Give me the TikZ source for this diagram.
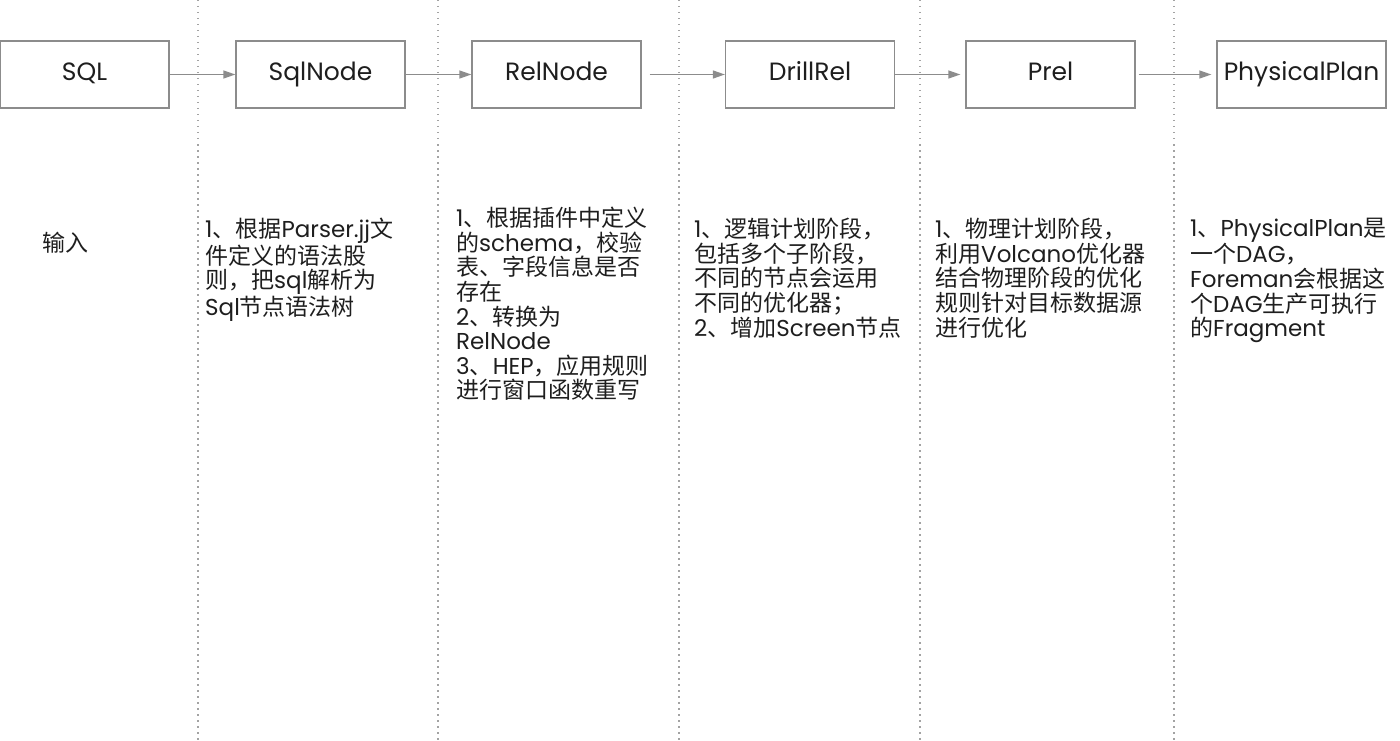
\documentclass[tikz,border=0pt]{standalone}
\usepackage{fontspec}
\setmainfont{Poppins}
\newfontfamily\cjk{Noto Sans CJK SC}
\newcommand{\zh}[1]{{\cjk #1}}
\usetikzlibrary{arrows.meta}
\definecolor{bordo}{HTML}{8C8C8C}
\definecolor{inchiostro}{HTML}{1E1E1E}

\begin{document}
\begin{tikzpicture}[x=1pt, y=-1pt, >={Triangle[length=12pt,width=8pt]}]
% Stili per le fasi e per i testi
\tikzset{fase/.style={draw=bordo, line width=1.3pt, minimum width=169pt, minimum height=67pt,
    text=inchiostro, font=\fontsize{25}{30}\selectfont, inner sep=0pt,
    text height=18pt, text depth=5pt}}
\tikzset{passo/.style={->, draw=bordo, line width=1.3pt}}
\tikzset{testo/.style={text=inchiostro, align=left, inner sep=0pt, anchor=north west,
    font=\fontsize{23}{24.6}\selectfont}}

\useasboundingbox (0,0) rectangle (1400,741);

% Separatori verticali tra le colonne
\foreach \x in {198, 438, 679, 920, 1174}
    \draw[bordo!80, line width=1.2pt, dash pattern=on 1.5pt off 4.5pt] (\x,0) -- (\x,741);

% --- FASI ---
\node[fase] (sql)      at (84.5,74.5)  {SQL};
\node[fase] (sqlnode)  at (320.5,74.5) {SqlNode};
\node[fase] (relnode)  at (556.5,74.5) {RelNode};
\node[fase] (drillrel) at (810,74.5)   {DrillRel};
\node[fase] (prel)     at (1050.5,74.5) {Prel};
\node[fase] (physplan) at (1301.5,74.5) {PhysicalPlan};

% Frecce tra le fasi
\draw[passo] (sql) -- (sqlnode);
\draw[passo] (sqlnode) -- (relnode);
\draw[passo, shorten <=8pt] (relnode) -- (drillrel);
\draw[passo, shorten >=5pt] (drillrel) -- (prel);
\draw[passo, shorten <=3pt, shorten >=5pt] (prel) -- (physplan);

% --- DESCRIZIONI ---
\node[testo, anchor=west] (ingresso) at (42,243) {\zh{输入}};
\node[testo] (desc1) at (205,218) {1\zh{、根据}Parser.jj\zh{文}\\
    \zh{件定义的语法股}\\ \zh{则，把}sql\zh{解析为}\\ Sql\zh{节点语法树}};
\node[testo] (desc2) at (456,207) {1\zh{、根据插件中定义}\\ \zh{的}schema\zh{，校验}\\
    \zh{表、字段信息是否}\\ \zh{存在}\\ 2\zh{、转换为}\\ RelNode\\
    3\zh{、}HEP\zh{，应用规则}\\ \zh{进行窗口函数重写}};
\node[testo] (desc3) at (694,218) {1\zh{、逻辑计划阶段，}\\ \zh{包括多个子阶段，}\\
    \zh{不同的节点会运用}\\ \zh{不同的优化器；}\\ 2\zh{、增加}Screen\zh{节点}};
\node[testo] (desc4) at (935,218) {1\zh{、物理计划阶段，}\\ \zh{利用}Volcano\zh{优化器}\\
    \zh{结合物理阶段的优化}\\ \zh{规则针对目标数据源}\\ \zh{进行优化}};
\node[testo] (desc5) at (1190,218) {1\zh{、}PhysicalPlan\zh{是}\\ \zh{一个}DAG\zh{，}\\
    Foreman\zh{会根据这}\\ \zh{个}DAG\zh{生产可执行}\\ \zh{的}Fragment};

\end{tikzpicture}
\end{document}
